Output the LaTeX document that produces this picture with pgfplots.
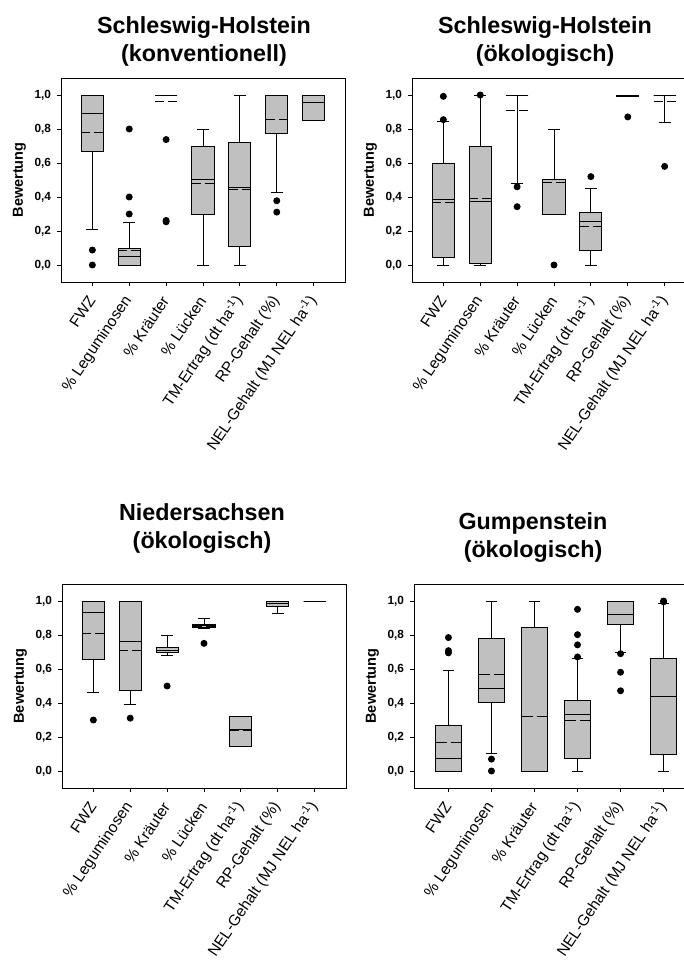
\documentclass[border=0pt]{standalone}
\usepackage{fontspec}
\setmainfont{Liberation Sans}
\usepackage{pgfplots}
\pgfplotsset{compat=1.18}
\usepgfplotslibrary{statistics}
\definecolor{boxgray}{RGB}{192,192,192}

\pgfplotsset{
  bpaxis/.style={
    scale only axis, width=284pt, height=204pt,
    ymin=-0.1, ymax=1.1, ytick={0,0.2,0.4,0.6,0.8,1.0},
    axis line style={line width=0.8pt},
    tick align=outside, major tick length=4pt,
    xtick pos=bottom, ytick pos=left,
    tick style={black, line width=0.8pt},
    /pgf/number format/assume math mode=true,
    yticklabel style={font=\bfseries\fontsize{11.8}{13}\selectfont, /pgf/number format/.cd, fixed, fixed zerofill, precision=1, use comma},
    yticklabel shift=2.5pt,
    xticklabel style={rotate=56, anchor=east, font=\fontsize{15.5}{17}\selectfont, inner sep=1pt},
    xticklabel shift=11pt,
    ylabel={Bewertung},
    ylabel style={font=\bfseries\fontsize{14.5}{16}\selectfont, at={(axis description cs:-0.146,0.5)}, anchor=center},
    boxplot/draw direction=y,
    boxplot/box extend=0.6,
    boxplot/every box/.style={fill=boxgray, draw=black, line width=0.9pt},
    boxplot/every median/.style={line width=0.9pt},
    boxplot/every whisker/.style={line width=0.9pt},
    boxplot/draw/average/.code={\draw[line width=0.9pt, /pgfplots/meandash] (boxplot box cs:\pgfplotsboxplotvalue{average},0) -- (boxplot box cs:\pgfplotsboxplotvalue{average},1);},
  },
  seven/.style={bpaxis, xmin=0.15, xmax=7.85, xtick={1,...,7},
    boxplot/whisker extend=0.32,
    meandash/.style={dash pattern=on 9pt off 4pt},
    xticklabels={FWZ,{\% Leguminosen},{\% Kräuter},{\% Lücken},{TM-Ertrag (dt ha\textsuperscript{-1})},{RP-Gehalt (\%)},{NEL-Gehalt (MJ NEL ha\textsuperscript{-1})}}},
  six/.style={bpaxis, xmin=0.2, xmax=6.8, xtick={1,...,6},
    boxplot/whisker extend=0.27,
    meandash/.style={dash pattern=on 11pt off 4pt},
    xticklabels={FWZ,{\% Leguminosen},{\% Kräuter},{TM-Ertrag (dt ha\textsuperscript{-1})},{RP-Gehalt (\%)},{NEL-Gehalt (MJ NEL ha\textsuperscript{-1})}}},
  bp/.style={black, line width=0.9pt, mark=*, mark size=3pt, mark options={solid, fill=black, draw=black}},
}

\begin{document}
\begin{tikzpicture}
\tikzset{ttl/.style={font=\bfseries\fontsize{23.3}{27}\selectfont, anchor=base}}
% Titles
\node[ttl] at (204pt,-33pt) {Schleswig-Holstein};
\node[ttl] at (204pt,-61pt) {(konventionell)};
\node[ttl] at (545pt,-33pt) {Schleswig-Holstein};
\node[ttl] at (545pt,-61pt) {(ökologisch)};
\node[ttl] at (202pt,-520pt) {Niedersachsen};
\node[ttl] at (202pt,-548pt) {(ökologisch)};
\node[ttl] at (533pt,-529pt) {Gumpenstein};
\node[ttl] at (533pt,-557pt) {(ökologisch)};

% Panel 1: Schleswig-Holstein (konventionell)
\begin{axis}[seven, at={(61pt,-78pt)}, anchor=north west]
\addplot[bp, boxplot prepared={draw position=1, lower whisker=0.21, lower quartile=0.669, median=0.894, upper quartile=1.0, upper whisker=1.0, average=0.777}] table[row sep=\\, y index=0] {y\\ 0.088\\ 0.0\\};
\addplot[bp, boxplot prepared={draw position=2, lower whisker=0.0, lower quartile=0.0, median=0.049, upper quartile=0.098, upper whisker=0.25, average=0.086}] table[row sep=\\, y index=0] {y\\ 0.80\\ 0.40\\ 0.30\\};
\addplot[bp, boxplot prepared={draw position=3, lower whisker=1.0, lower quartile=1.0, median=1.0, upper quartile=1.0, upper whisker=1.0, average=0.962}] table[row sep=\\, y index=0] {y\\ 0.738\\ 0.262\\ 0.254\\};
\addplot[bp, boxplot prepared={draw position=4, lower whisker=0.0, lower quartile=0.30, median=0.501, upper quartile=0.697, upper whisker=0.80, average=0.479}] coordinates {};
\addplot[bp, boxplot prepared={draw position=5, lower whisker=0.0, lower quartile=0.11, median=0.454, upper quartile=0.722, upper whisker=1.0, average=0.444}] coordinates {};
\addplot[bp, boxplot prepared={draw position=6, lower whisker=0.427, lower quartile=0.771, median=1.0, upper quartile=1.0, upper whisker=1.0, average=0.859}] table[row sep=\\, y index=0] {y\\ 0.378\\ 0.311\\};
\addplot[bp, boxplot prepared={draw position=7, lower whisker=0.849, lower quartile=0.849, median=0.957, upper quartile=1.0, upper whisker=1.0, average=0.955}] coordinates {};
\end{axis}

% Panel 2: Schleswig-Holstein (oekologisch)
\begin{axis}[seven, at={(412pt,-78pt)}, anchor=north west]
\addplot[bp, boxplot prepared={draw position=1, lower whisker=0.0, lower quartile=0.047, median=0.384, upper quartile=0.599, upper whisker=0.845, average=0.366}] table[row sep=\\, y index=0] {y\\ 0.992\\ 0.855\\};
\addplot[bp, boxplot prepared={draw position=2, lower whisker=0.0, lower quartile=0.01, median=0.374, upper quartile=0.697, upper whisker=1.0, average=0.391}] table[row sep=\\, y index=0] {y\\ 1.0\\};
\addplot[bp, boxplot prepared={draw position=3, lower whisker=0.479, lower quartile=1.0, median=1.0, upper quartile=1.0, upper whisker=1.0, average=0.908}] table[row sep=\\, y index=0] {y\\ 0.46\\ 0.343\\};
\addplot[bp, boxplot prepared={draw position=4, lower whisker=0.30, lower quartile=0.30, median=0.501, upper quartile=0.501, upper whisker=0.80, average=0.483}] table[row sep=\\, y index=0] {y\\ 0.0\\};
\addplot[bp, boxplot prepared={draw position=5, lower whisker=0.0, lower quartile=0.084, median=0.258, upper quartile=0.311, upper whisker=0.452, average=0.227}] table[row sep=\\, y index=0] {y\\ 0.52\\};
\addplot[bp, boxplot prepared={draw position=6, lower whisker=0.99, lower quartile=0.99, median=1.0, upper quartile=1.0, upper whisker=1.0, average=0.995}] table[row sep=\\, y index=0] {y\\ 0.871\\};
\addplot[bp, boxplot prepared={draw position=7, lower whisker=0.84, lower quartile=1.0, median=1.0, upper quartile=1.0, upper whisker=1.0, average=0.96}] table[row sep=\\, y index=0] {y\\ 0.58\\};
\end{axis}

% Panel 3: Niedersachsen (oekologisch)
\begin{axis}[seven, at={(62pt,-584pt)}, anchor=north west]
\addplot[bp, boxplot prepared={draw position=1, lower whisker=0.462, lower quartile=0.654, median=0.93, upper quartile=1.0, upper whisker=1.0, average=0.812}] table[row sep=\\, y index=0] {y\\ 0.30\\};
\addplot[bp, boxplot prepared={draw position=2, lower whisker=0.391, lower quartile=0.475, median=0.763, upper quartile=1.0, upper whisker=1.0, average=0.71}] table[row sep=\\, y index=0] {y\\ 0.311\\};
\addplot[bp, boxplot prepared={draw position=3, lower whisker=0.68, lower quartile=0.698, median=0.712, upper quartile=0.726, upper whisker=0.80, average=0.708}] table[row sep=\\, y index=0] {y\\ 0.50\\};
\addplot[bp, boxplot prepared={draw position=4, lower whisker=0.836, lower quartile=0.845, median=0.855, upper quartile=0.865, upper whisker=0.898, average=0.853}] table[row sep=\\, y index=0] {y\\ 0.751\\};
\addplot[bp, boxplot prepared={draw position=5, lower whisker=0.147, lower quartile=0.147, median=0.246, upper quartile=0.323, upper whisker=0.323, average=0.239}] coordinates {};
\addplot[bp, boxplot prepared={draw position=6, lower whisker=0.927, lower quartile=0.967, median=0.984, upper quartile=1.0, upper whisker=1.0, average=0.983}] coordinates {};
\addplot[bp, boxplot prepared={draw position=7, lower whisker=1.0, lower quartile=1.0, median=1.0, upper quartile=1.0, upper whisker=1.0, average=1.0}] coordinates {};
\end{axis}

% Panel 4: Gumpenstein (oekologisch)
\begin{axis}[six, at={(414pt,-584pt)}, anchor=north west]
\addplot[bp, boxplot prepared={draw position=1, lower whisker=0.0, lower quartile=0.0, median=0.075, upper quartile=0.268, upper whisker=0.591, average=0.168}] table[row sep=\\, y index=0] {y\\ 0.785\\ 0.708\\ 0.695\\};
\addplot[bp, boxplot prepared={draw position=2, lower whisker=0.106, lower quartile=0.401, median=0.484, upper quartile=0.777, upper whisker=1.0, average=0.569}] table[row sep=\\, y index=0] {y\\ 0.07\\ 0.0\\};
\addplot[bp, boxplot prepared={draw position=3, lower whisker=0.0, lower quartile=0.0, median=0.0, upper quartile=0.847, upper whisker=1.0, average=0.321}] coordinates {};
\addplot[bp, boxplot prepared={draw position=4, lower whisker=0.0, lower quartile=0.073, median=0.331, upper quartile=0.417, upper whisker=0.66, average=0.298}] table[row sep=\\, y index=0] {y\\ 0.951\\ 0.802\\ 0.742\\ 0.671\\};
\addplot[bp, boxplot prepared={draw position=5, lower whisker=0.695, lower quartile=0.861, median=0.921, upper quartile=1.0, upper whisker=1.0, average=0.921}] table[row sep=\\, y index=0] {y\\ 0.69\\ 0.581\\ 0.472\\};
\addplot[bp, boxplot prepared={draw position=6, lower whisker=0.0, lower quartile=0.098, median=0.438, upper quartile=0.661, upper whisker=0.984, average=0.438}] table[row sep=\\, y index=0] {y\\ 1.0\\ 0.995\\};
\end{axis}

\pgfresetboundingbox
\useasboundingbox (0pt,0pt) rectangle (684pt,-972pt);
\end{tikzpicture}
\end{document}
